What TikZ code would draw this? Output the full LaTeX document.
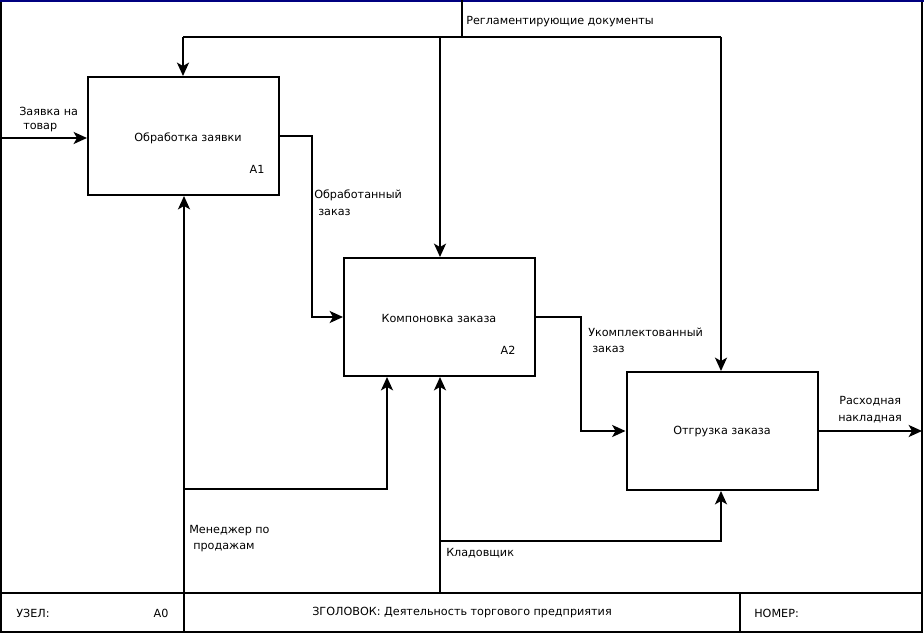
\documentclass[tikz,border=0pt]{standalone}
\usepackage{fontspec}
\setmainfont{DejaVu Sans}
\usetikzlibrary{arrows.meta}
\definecolor{topblue}{HTML}{000080}
\begin{document}
\begin{tikzpicture}[x=0.75pt,y=-0.75pt,
  every node/.style={font=\fontsize{8.4}{10}\selectfont, inner sep=0pt},
  fn/.style={draw, line width=1.5pt, minimum width=143.25pt, minimum height=88.5pt},
  ln/.style={line width=1.5pt},
  arr/.style={line width=1.5pt, -{Stealth[length=10pt,width=9pt,inset=2.5pt]}},
  lbl/.style={anchor=west}
]
\useasboundingbox (0,0) rectangle (924,634);
% frame
\draw[ln] (1,1) -- (1,632) -- (922,632) -- (922,1);
\draw[line width=1.5pt, topblue] (0,1) -- (924,1);
\draw[ln] (1,593) -- (922,593);
\draw[ln] (184,593) -- (184,632);
\draw[ln] (740,593) -- (740,632);
% boxes
\node[fn] (b1) at (183.5,136) {};
\node[fn] (b2) at (439.5,317) {};
\node[fn] (b3) at (722,431) {};
\node (t1) at (188,138) {Обработка заявки};
\node (a1) at (257,169) {A1};
\node (t2) at (439,318) {Компоновка заказа};
\node (a2) at (508,350) {A2};
\node (t3) at (722,432) {Отгрузка заказа};
% control
\coordinate (ctop) at (462,0);
\coordinate (cj) at (462,37);
\coordinate (cl) at (183,37);
\coordinate (cm) at (440,37);
\coordinate (cr) at (721,37);
\draw[ln] (ctop) -- (cj);
\draw[ln] (cl) -- (cr);
\draw[arr] (cl) -- (cl |- b1.north);
\draw[arr] (cm) -- (cm |- b2.north);
\draw[arr] (cr) -- (cr |- b3.north);
\node[lbl] (lc) at (466,22) {Регламентирующие документы};
% input
\coordinate (in0) at (0,138);
\draw[arr] (in0) -- (in0 -| b1.west);
\node[lbl] (li1) at (19,111) {Заявка на};
\node[lbl] (li2) at (23,128) {товар};
% b1 -> b2
\coordinate (k1) at (312,136);
\draw[arr] (b1.east) -- (k1) |- (b2.west);
\node[lbl] (lo1) at (314,195) {Обработанный};
\node[lbl] (lo2) at (318,212) {заказ};
% b2 -> b3
\coordinate (k2) at (581,317);
\draw[arr] (b2.east) -- (k2) |- (b3.west);
\node[lbl] (lu1) at (588,332) {Укомплектованный};
\node[lbl] (lu2) at (592,349) {заказ};
% output
\coordinate (out) at (922,431);
\draw[arr] (b3.east) -- (out);
\node[lbl] (lr1) at (839,401) {Расходная};
\node[lbl] (lr2) at (838,419) {накладная};
% mechanism 1
\coordinate (m1b) at (184,593);
\coordinate (m1j) at (184,489);
\coordinate (m1r) at (387,489);
\draw[arr] (m1b) -- (m1b |- b1.south);
\draw[arr] (m1j) -- (m1r) -- (m1r |- b2.south);
\node[lbl] (lm1) at (189,531) {Менеджер по};
\node[lbl] (lm2) at (193,548) {продажам};
% mechanism 2
\coordinate (m2b) at (440,593);
\coordinate (m2j) at (440,541);
\coordinate (m2r) at (721,541);
\draw[arr] (m2b) -- (m2b |- b2.south);
\draw[arr] (m2j) -- (m2r) -- (m2r |- b3.south);
\node[lbl] (lk) at (446,553) {Кладовщик};
% footer
\node[lbl] (f1) at (16,613) {УЗЕЛ:};
\node (f2) at (161,613) {A0};
\node (f3) at (462,613) {ЗГОЛОВОК: Деятельность торгового предприятия};
\node[lbl] (f4) at (754,613) {НОМЕР:};
\end{tikzpicture}
\end{document}
